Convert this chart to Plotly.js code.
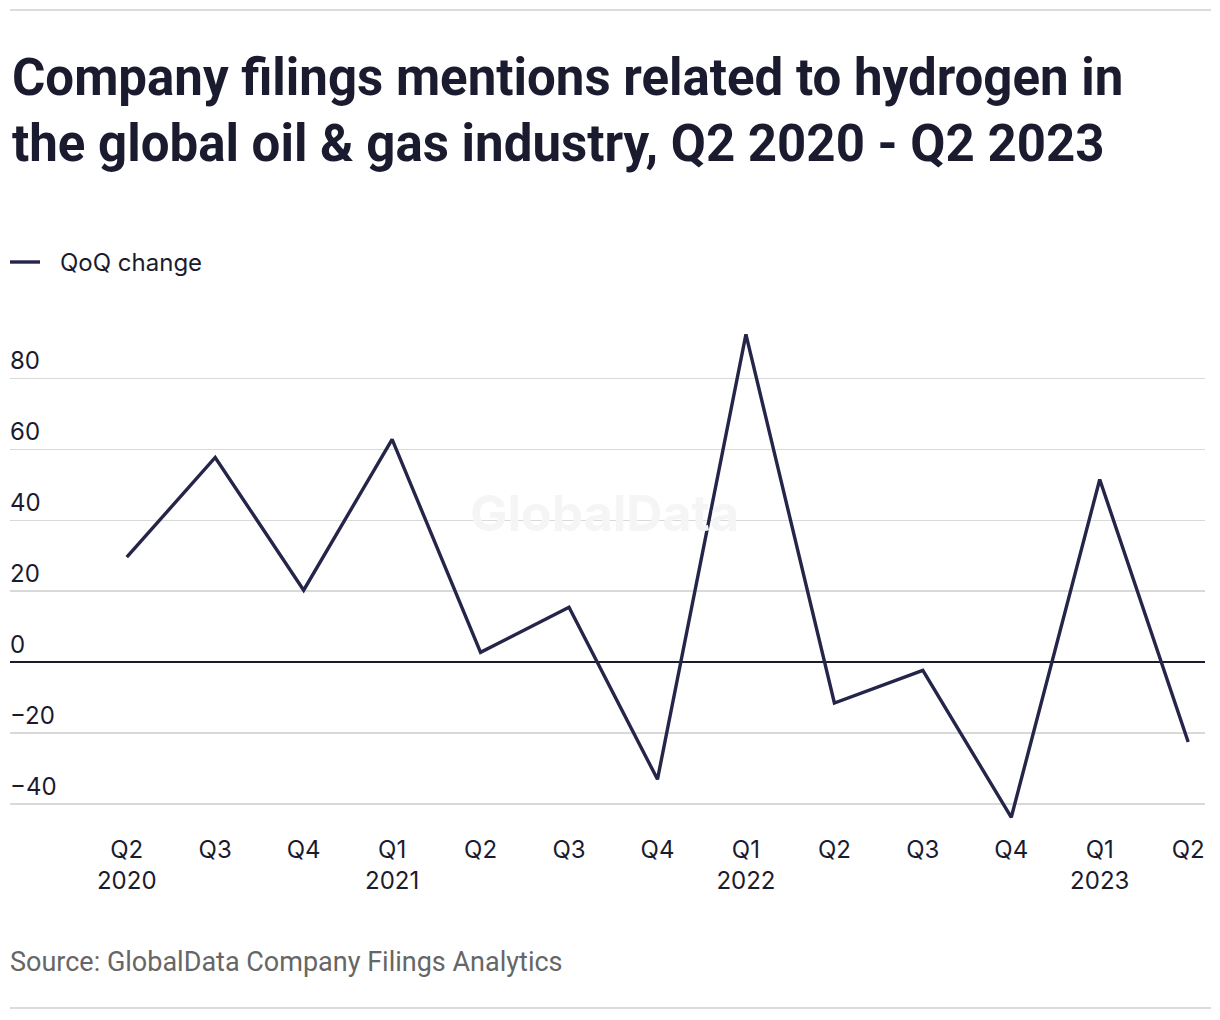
<!DOCTYPE html>
<html>
<head>
<meta charset="utf-8">
<script src="https://cdn.plot.ly/plotly-3.0.1.min.js"></script>
<style>html,body{margin:0;padding:0;background:#fff;}#chart{width:1220px;height:1020px;}</style>
</head>
<body>
<div id="chart"></div>
<script>
const quarters = ["Q2<br>2020","Q3","Q4","Q1<br>2021","Q2","Q3","Q4","Q1<br>2022","Q2","Q3","Q4","Q1<br>2023","Q2"];
const qoqChange = [29.6, 57.7, 20.3, 62.8, 2.8, 15.5, -33.0, 92.4, -11.5, -2.3, -43.7, 51.5, -22.5];
const yTickValues = [-40, -20, 0, 20, 40, 60, 80];
const yTickLabels = ["\u221240", "\u221220", "0", "20", "40", "60", "80"];
const seriesName = "QoQ change";

const ink = "#1b1b2f";
const lineColor = "#25254a";
const plotH = 511;
const plotTop = 318;

const xIdx = quarters.map((_, i) => i);

const trace = {
  type: "scatter", mode: "lines",
  x: xIdx, y: qoqChange,
  name: seriesName,
  line: {color: lineColor, width: 3.4},
  hoverinfo: "skip", showlegend: false
};

function py(pixelY) { return 1 - (pixelY - plotTop) / plotH; }

const annotations = [
  {xref: "x", yref: "y", x: 5.4, y: 42, text: "<b>GlobalData</b>", showarrow: false,
   font: {family: "Inter, sans-serif", size: 50, color: "#f5f5f5"}},
  {xref: "paper", yref: "paper", x: 0, y: py(46), xanchor: "left", yanchor: "top",
   text: "<b>Company filings mentions related to hydrogen in<br>the global oil &amp; gas industry, Q2 2020 - Q2 2023</b>",
   align: "left", showarrow: false,
   font: {family: "Roboto, sans-serif", size: 51, color: ink}},
  {xref: "paper", yref: "paper", x: 48 / 1195, y: py(262), xanchor: "left", yanchor: "middle",
   text: seriesName, showarrow: false,
   font: {family: "Inter, sans-serif", size: 24, color: ink}}
];

yTickValues.forEach((v, i) => {
  annotations.push({
    xref: "paper", yref: "y", x: 0, y: v, xanchor: "left", yanchor: "bottom",
    text: yTickLabels[i], showarrow: false, yshift: 1, xshift: -2,
    font: {family: "Inter, sans-serif", size: 24, color: ink}
  });
});

annotations.push({
  xref: "paper", yref: "paper", x: 0, y: py(944), xanchor: "left", yanchor: "top",
  text: "Source: GlobalData Company Filings Analytics", showarrow: false, xshift: -2,
  font: {family: "Roboto, sans-serif", size: 27, color: "#666666"}
});

const layout = {
  width: 1220, height: 1020,
  margin: {l: 10, r: 15, t: plotTop, b: 1020 - plotTop - plotH, pad: 0},
  paper_bgcolor: "#ffffff", plot_bgcolor: "#ffffff",
  showlegend: false,
  xaxis: {
    range: [-1.32, 12.19], tickmode: "array", tickvals: xIdx, ticktext: quarters,
    showgrid: false, zeroline: false, showline: false, ticks: "",
    tickfont: {family: "Inter, sans-serif", size: 24, color: ink},
    ticklabelstandoff: 4,
    fixedrange: true
  },
  yaxis: {
    range: [-47, 97], tickmode: "array", tickvals: yTickValues,
    showticklabels: false, showgrid: true, gridcolor: "#d9d9d9", gridwidth: 1.5,
    zeroline: true, zerolinecolor: ink, zerolinewidth: 1.8, showline: false,
    fixedrange: true
  },
  annotations: annotations,
  shapes: [
    {type: "line", xref: "paper", yref: "paper", x0: 0, x1: 1.005, y0: py(10), y1: py(10),
     line: {color: "#dcdcdc", width: 2}},
    {type: "line", xref: "paper", yref: "paper", x0: 0, x1: 1.005, y0: py(1008), y1: py(1008),
     line: {color: "#dcdcdc", width: 2}},
    {type: "line", xref: "paper", yref: "paper", x0: 0, x1: 30 / 1195, y0: py(262), y1: py(262),
     line: {color: lineColor, width: 3.4}}
  ]
};

Plotly.newPlot("chart", [trace], layout, {displayModeBar: false, staticPlot: true});
</script>
</body>
</html>
